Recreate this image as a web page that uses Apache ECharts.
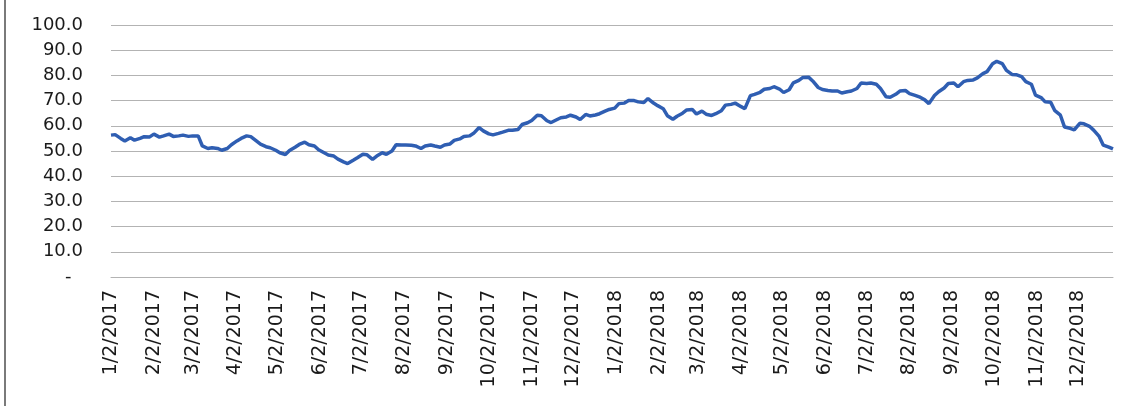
<!DOCTYPE html>
<html>
<head>
<meta charset="utf-8">
<script src="https://cdn.jsdelivr.net/npm/echarts@6/dist/echarts.min.js"></script>
<style>
html,body{margin:0;padding:0;background:#fff;}
#chart{width:1128px;height:406px;}
</style>
</head>
<body>
<div id="chart"></div>
<script>
// Axis span (calendar days, date axis like the original)
const startDate = '2017-01-02';
const endDate = '2018-12-27';

// Y-axis ticks
const yTicks = [0, 10, 20, 30, 40, 50, 60, 70, 80, 90, 100];

// Values, two per week: Monday then Thursday, starting Mon 1/2/2017
const values = [
  56.3, 56.5, 55.0, 54.0, 55.3, 54.3, 55.0, 55.7, 55.6, 56.7,
  55.5, 56.0, 56.7, 55.8, 56.0, 56.3, 55.8, 56.0, 56.0, 52.0,
  51.0, 51.3, 51.0, 50.3, 51.0, 52.5, 54.0, 55.0, 56.0, 55.7,
  54.0, 52.7, 51.7, 51.3, 50.3, 49.3, 48.6, 50.2, 51.5, 52.6,
  53.5, 52.5, 52.0, 50.5, 49.3, 48.4, 48.0, 46.8, 45.7, 45.0,
  46.3, 47.3, 48.7, 48.5, 46.7, 48.0, 49.3, 48.7, 50.0, 52.5,
  52.4, 52.4, 52.3, 52.0, 51.0, 52.0, 52.4, 52.0, 51.5, 52.4,
  52.8, 54.2, 54.8, 55.8, 56.0, 57.0, 59.3, 58.0, 56.8, 56.4,
  57.0, 57.5, 58.2, 58.2, 58.5, 60.5, 61.2, 62.1, 64.2, 64.0,
  62.0, 61.3, 62.4, 63.2, 63.5, 64.2, 63.5, 62.5, 64.5, 63.9,
  64.3, 64.8, 65.8, 66.5, 67.0, 68.8, 69.0, 70.0, 70.0, 69.5,
  69.2, 70.8, 69.0, 68.0, 66.8, 64.0, 62.6, 63.8, 65.0, 66.3,
  66.5, 64.7, 65.8, 64.6, 64.1, 64.8, 66.0, 68.2, 68.5, 69.0,
  67.7, 66.8, 72.0, 72.5, 73.3, 74.5, 74.8, 75.5, 74.6, 73.2,
  74.3, 77.0, 78.0, 79.2, 79.3, 77.8, 75.2, 74.4, 74.0, 73.8,
  73.8, 73.0, 73.5, 73.8, 74.8, 77.0, 76.8, 77.0, 76.5, 74.8,
  71.5, 71.3, 72.5, 73.8, 74.0, 72.8, 72.1, 71.5, 70.3, 68.8,
  72.0, 73.5, 75.0, 76.8, 77.0, 75.5, 77.5, 78.0, 78.2, 79.0,
  80.7, 81.5, 84.6, 85.6, 84.7, 82.0, 80.4, 80.3, 79.5, 77.5,
  76.5, 72.2, 71.2, 69.5, 69.3, 66.0, 64.2, 59.5, 59.0, 58.4,
  61.0, 60.8, 59.8, 58.3, 55.8, 52.3, 51.5, 50.8
];

// Build calendar-day categories in M/D/YYYY form
const categories = [];
(function(){
  const d = new Date(startDate + 'T00:00:00Z');
  const e = new Date(endDate + 'T00:00:00Z');
  while (d <= e) {
    categories.push((d.getUTCMonth()+1) + '/' + d.getUTCDate() + '/' + d.getUTCFullYear());
    d.setUTCDate(d.getUTCDate() + 1);
  }
})();

// Each value sits on a Monday (offset 0) or Thursday (offset 3) of week i>>1
const seriesData = values.map((v, i) => [categories[7 * Math.floor(i / 2) + 3 * (i % 2)], v]);

const chart = echarts.init(document.getElementById('chart'), null, {renderer: 'canvas'});
chart.setOption({
  animation: false,
  backgroundColor: '#ffffff',
  grid: {left: 111, right: 15, top: 25, bottom: 129, containLabel: false},
  xAxis: {
    type: 'category',
    data: categories,
    boundaryGap: false,
    axisLine: {show: true, lineStyle: {color: '#b3b3b3', width: 1}},
    axisTick: {show: false},
    splitLine: {show: false},
    axisLabel: {
      interval: function (idx, val) { return val.split('/')[1] === '2'; },
      rotate: 90,
      margin: 13,
      fontFamily: 'DejaVu Sans',
      fontSize: 19,
      color: '#1a1a1a'
    }
  },
  yAxis: {
    type: 'value',
    min: yTicks[0],
    max: yTicks[yTicks.length - 1],
    interval: 10,
    axisLine: {show: false},
    axisTick: {show: false},
    splitLine: {show: true, lineStyle: {color: '#b3b3b3', width: 1}},
    axisLabel: {
      margin: 28,
      fontFamily: 'DejaVu Sans',
      fontSize: 18,
      color: '#1a1a1a',
      formatter: function (v) { return v === 0 ? '-  ' : v.toFixed(1); }
    }
  },
  series: [{
    type: 'line',
    data: seriesData,
    showSymbol: false,
    symbol: 'none',
    connectNulls: true,
    lineStyle: {color: '#2f5eb2', width: 3.5},
    itemStyle: {color: '#2f5eb2'}
  }],
  graphic: [{
    type: 'line',
    shape: {x1: 5, y1: 0, x2: 5, y2: 406},
    style: {stroke: '#7a7a7a', lineWidth: 2}
  }]
});
</script>
</body>
</html>
